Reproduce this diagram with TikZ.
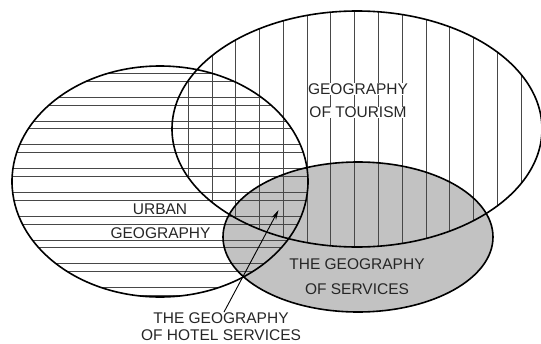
\documentclass[tikz,border=0pt]{standalone}
\usepackage{fontspec}
\setmainfont{Liberation Sans}
\usetikzlibrary{arrows.meta}

\begin{document}
\begin{tikzpicture}[x=1pt, y=-1pt,
  font=\fontsize{15.5}{16.5}\selectfont,
  rim/.style={line width=1.6pt},
  hatch/.style={line width=0.9pt, black!72},
  lab/.style={align=center, inner sep=0.5pt, text=black!85},
  clear/.style={lab, fill=white},
  >={Stealth[length=10pt, width=5pt]}]
\useasboundingbox (0,0) rectangle (541,343);
% the three fields
\fill[black!24] (358,237) ellipse [x radius=135pt, y radius=75pt];
\begin{scope}
  \clip (160,181.5) ellipse [x radius=148pt, y radius=115.5pt];
  \foreach \k in {0,...,9} {
    \draw[hatch] (0,{73.5+23.8*\k}) -- (320,{73.5+23.8*\k});
    \draw[hatch] (0,{81.2+23.8*\k}) -- (320,{81.2+23.8*\k});
  }
\end{scope}
\begin{scope}
  \clip (357,129) ellipse [x radius=185pt, y radius=118pt];
  \foreach \k in {0,...,14}
    \draw[hatch] ({188.3+23.77*\k},0) -- ({188.3+23.77*\k},260);
\end{scope}
\draw[rim] (160,181.5) ellipse [x radius=148pt, y radius=115.5pt];
\draw[rim] (357,129) ellipse [x radius=185pt, y radius=118pt];
\draw[rim] (358,237) ellipse [x radius=135pt, y radius=75pt];
% labels
\node[clear] (tourismA) at (358,89) {GEOGRAPHY};
\node[clear] (tourismB) at (358,112.5) {OF TOURISM};
\node[clear] (urbanA) at (160,209) {URBAN};
\node[clear] (urbanB) at (160.5,233) {GEOGRAPHY};
\node[lab, font=\fontsize{15.5}{25}\selectfont] (services) at (357,277) {THE GEOGRAPHY\\OF SERVICES};
\node[lab] (hotel) at (221,326.5) {THE GEOGRAPHY\\OF HOTEL SERVICES};
\coordinate (hotelspot) at (278.5,210);
\draw[->, line width=0.9pt] ([xshift=3pt]hotel.north) -- (hotelspot);
\end{tikzpicture}
\end{document}
